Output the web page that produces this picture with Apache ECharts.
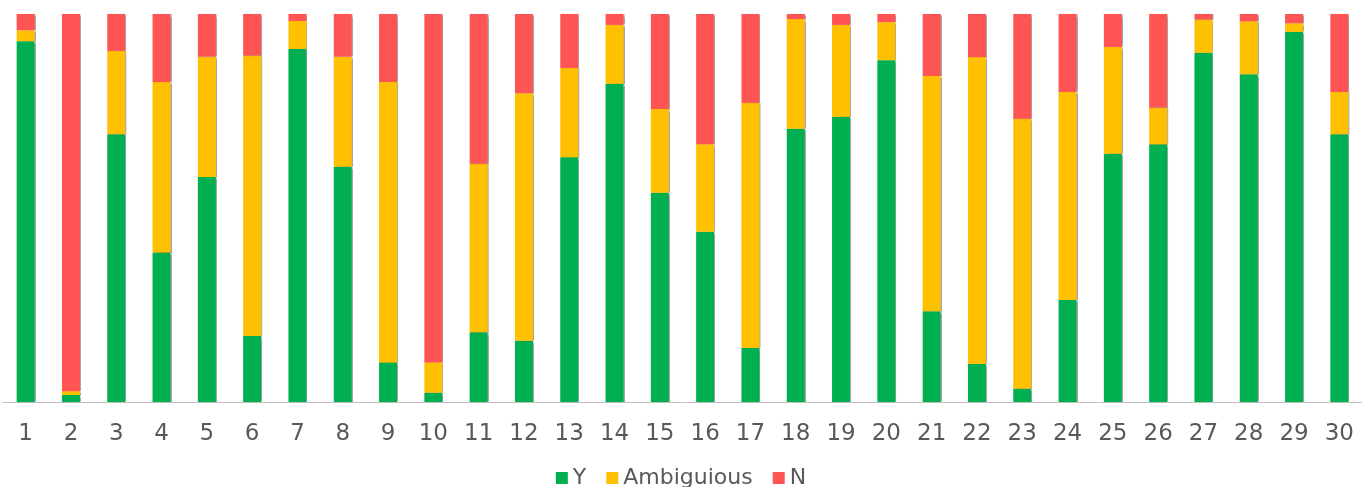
<!DOCTYPE html>
<html>
<head>
<meta charset="utf-8">
<script src="https://cdn.jsdelivr.net/npm/echarts@6/dist/echarts.min.js"></script>
<style>
  html, body { margin: 0; padding: 0; background: #fff; }
  #chart { width: 1362px; height: 487px; }
</style>
</head>
<body>
<div id="chart"></div>
<script>
// categories 1..30
var categories = ['1','2','3','4','5','6','7','8','9','10','11','12','13','14','15',
  '16','17','18','19','20','21','22','23','24','25','26','27','28','29','30'];

// shares in %
var yesData = [93.0, 1.8, 69.0, 38.5, 58.0, 17.0, 91.0, 60.6, 10.2, 2.4,
  18.0, 15.8, 63.1, 82.0, 53.9, 43.9, 13.9, 70.4, 73.5, 88.1,
  23.4, 9.8, 3.4, 26.3, 64.0, 66.4, 90.0, 84.5, 95.4, 69.0];
var ambData = [2.8, 1.0, 21.5, 44.0, 31.0, 72.3, 7.2, 28.4, 72.3, 7.8,
  43.4, 63.8, 23.0, 15.2, 21.6, 22.5, 63.2, 28.3, 23.7, 9.8,
  60.6, 79.1, 69.6, 53.6, 27.5, 9.5, 8.6, 13.6, 2.2, 10.9];
var noData = [4.2, 97.2, 9.5, 17.5, 11.0, 10.7, 1.8, 11.0, 17.5, 89.8,
  38.6, 20.4, 13.9, 2.8, 24.5, 33.6, 22.9, 1.3, 2.8, 2.1,
  16.0, 11.1, 27.0, 20.1, 8.5, 24.1, 1.4, 1.9, 2.4, 20.1];

var chart = echarts.init(document.getElementById('chart'));

var barStyle = function (color) {
  return {
    color: color,
    shadowColor: 'rgba(0,0,0,0.35)',
    shadowBlur: 1,
    shadowOffsetX: 1
  };
};

var option = {
  animation: false,
  textStyle: { fontFamily: 'DejaVu Sans' },
  grid: { left: 3, top: 14, width: 1365, bottom: 85 },
  legend: {
    data: ['Y', 'Ambiguious', 'N'],
    top: 462,
    itemWidth: 12,
    itemHeight: 12,
    itemGap: 20,
    icon: 'rect',
    textStyle: { fontSize: 22, color: '#595959' }
  },
  xAxis: {
    type: 'category',
    data: categories,
    axisLine: { lineStyle: { color: '#BFBFBF', width: 1 } },
    axisTick: { show: false },
    axisLabel: { fontSize: 23, color: '#595959', margin: 21 }
  },
  yAxis: {
    type: 'value',
    min: 0,
    max: 100,
    show: false,
    splitLine: { show: false }
  },
  series: [
    { name: 'Y', type: 'bar', stack: 'all', barWidth: 18, data: yesData, itemStyle: barStyle('#00B050') },
    { name: 'Ambiguious', type: 'bar', stack: 'all', barWidth: 18, data: ambData, itemStyle: barStyle('#FFC000') },
    { name: 'N', type: 'bar', stack: 'all', barWidth: 18, data: noData, itemStyle: barStyle('#FF5454') }
  ]
};

chart.setOption(option);
</script>
</body>
</html>
